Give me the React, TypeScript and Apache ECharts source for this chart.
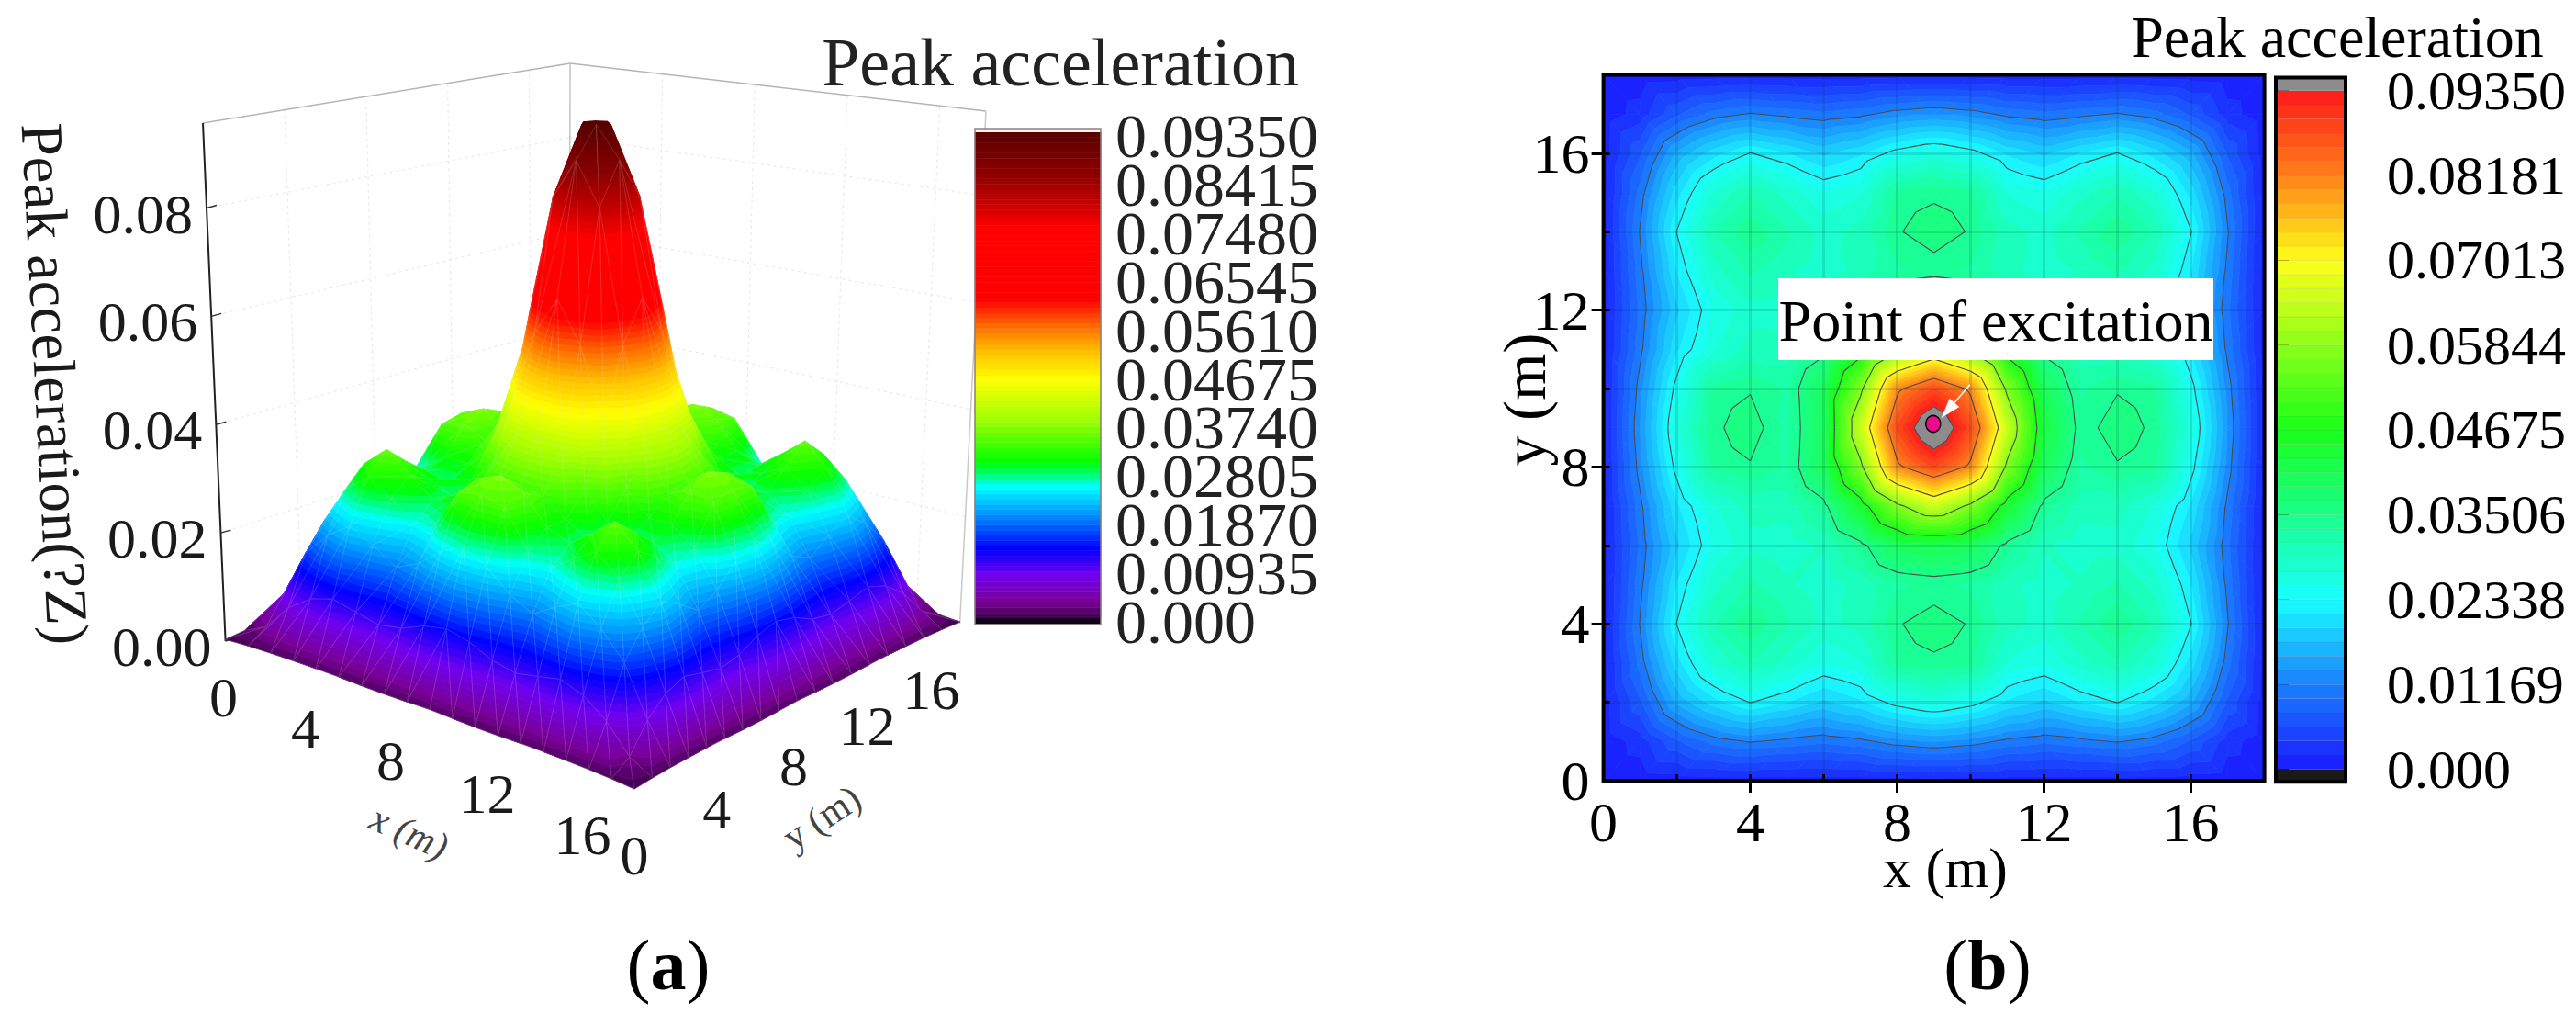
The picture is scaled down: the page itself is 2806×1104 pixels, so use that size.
import React, { useEffect, useRef } from "react";
import * as echarts from "echarts";

// Peak acceleration on the 19x19 node grid (1 m spacing), unit 1e-3, row index = y, column index = x
const accelRows = [
  [0.3,0.6,0.8,0.9,1.0,1.0,0.9,0.9,1.0,1.1,1.0,0.9,0.9,1.0,1.0,0.9,0.8,0.6,0.3],
  [0.6,2.8,7.5,10.5,11.9,11.0,10.2,11.0,12.8,13.7,12.8,11.0,10.2,11.0,11.9,10.5,7.5,2.8,0.6],
  [0.8,7.5,16.0,20.5,23.5,21.5,19.0,21.0,24.5,26.5,24.5,21.0,19.0,21.5,23.5,20.5,16.0,7.5,0.8],
  [0.9,10.5,20.5,27.5,31.0,28.5,25.5,27.0,33.6,34.5,33.6,27.0,25.5,28.5,31.0,27.5,20.5,10.5,0.9],
  [1.0,11.9,23.5,31.0,34.8,31.5,28.5,30.0,34.8,36.5,34.8,30.0,28.5,31.5,34.8,31.0,23.5,11.9,1.0],
  [1.0,11.0,21.5,28.5,31.5,29.5,28.0,30.0,32.8,33.5,32.8,30.0,28.0,29.5,31.5,28.5,21.5,11.0,1.0],
  [0.9,10.2,19.0,25.5,28.5,28.0,29.5,34.0,40.0,41.0,40.0,34.0,29.5,28.0,28.5,25.5,19.0,10.2,0.9],
  [0.9,11.0,21.0,27.0,30.0,30.0,34.0,44.0,57.0,64.3,57.0,44.0,34.0,30.0,30.0,27.0,21.0,11.0,0.9],
  [1.0,12.8,24.5,33.6,34.8,32.8,40.0,57.0,80.5,88.0,80.5,57.0,40.0,32.8,34.8,33.6,24.5,12.8,1.0],
  [1.1,13.7,26.5,34.5,36.5,32.5,39.5,64.3,88.0,100.0,88.0,64.3,42.5,33.8,36.5,34.5,26.5,13.7,1.1],
  [1.0,12.8,24.5,33.6,34.8,32.8,40.0,57.0,80.5,88.0,80.5,57.0,40.0,32.8,34.8,33.6,24.5,12.8,1.0],
  [0.9,11.0,21.0,27.0,30.0,30.0,34.0,44.0,57.0,64.3,57.0,44.0,34.0,30.0,30.0,27.0,21.0,11.0,0.9],
  [0.9,10.2,19.0,25.5,28.5,28.0,29.5,34.0,40.0,42.5,40.0,34.0,29.5,28.0,28.5,25.5,19.0,10.2,0.9],
  [1.0,11.0,21.5,28.5,31.5,29.5,28.0,30.0,32.8,33.8,32.8,30.0,28.0,29.5,31.5,28.5,21.5,11.0,1.0],
  [1.0,11.9,23.5,31.0,34.8,31.5,28.5,30.0,34.8,36.5,34.8,30.0,28.5,31.5,34.8,31.0,23.5,11.9,1.0],
  [0.9,10.5,20.5,27.5,31.0,28.5,25.5,27.0,33.6,34.5,33.6,27.0,25.5,28.5,31.0,27.5,20.5,10.5,0.9],
  [0.8,7.5,16.0,20.5,23.5,21.5,19.0,21.0,24.5,26.5,24.5,21.0,19.0,21.5,23.5,20.5,16.0,7.5,0.8],
  [0.6,2.8,7.5,10.5,11.9,11.0,10.2,11.0,12.8,13.7,12.8,11.0,10.2,11.0,11.9,10.5,7.5,2.8,0.6],
  [0.3,0.6,0.8,0.9,1.0,1.0,0.9,0.9,1.0,1.1,1.0,0.9,0.9,1.0,1.0,0.9,0.8,0.6,0.3],
];

const colorbarTicksA = [0, 0.00935, 0.0187, 0.02805, 0.0374, 0.04675, 0.0561, 0.06545, 0.0748, 0.08415, 0.0935];
const colorbarTicksB = [0, 0.01169, 0.02338, 0.03506, 0.04675, 0.05844, 0.07013, 0.08181, 0.0935];
const contourLevels = [0.01169, 0.02338, 0.03506, 0.04675, 0.05844, 0.07013, 0.08181, 0.0935];
const xyLabelTicks = [0, 4, 8, 12, 16];
const xyLongTicks = [4, 8, 12, 16];
const zTicks = [0, 0.02, 0.04, 0.06, 0.08];
const wallGridTicks = [4, 8, 12, 16];
const excitationPoint = [8.98, 9.1];
const arrowFrom = [9.98, 10.1];
const arrowTo = [9.2, 9.25];
const excitationBox = [4.76, 12.81, 16.61, 10.73];

const FONT = '"Liberation Serif", serif';
const VALUE_CAP = 0.0935;
const SURFACE_LIFT = 1.05;
const Z_TOP = 0.0957;
const BAND_A = 0.001;
const BAND_B = 0.0935 / 48;

const stopsA: [number, string][] = [
  [0, "#3c0048"], [0.0031, "#7a0096"], [0.0084, "#7000f0"], [0.0134, "#0000ff"], [0.0199, "#0090ff"],
  [0.0253, "#00ffff"], [0.0275, "#00ff80"], [0.0299, "#00ff00"], [0.0383, "#a0ff00"], [0.046, "#ffff00"],
  [0.0513, "#ffc000"], [0.0559, "#ff7000"], [0.0613, "#ff0000"], [0.0751, "#ff0000"], [0.0797, "#c80000"],
  [0.0858, "#8c0000"], [0.0935, "#5a0000"],
];
const stopsB: [number, string][] = [
  [0, "#1a1aff"], [0.01169, "#1a80ff"], [0.02338, "#1affff"], [0.03506, "#1aff8c"], [0.04675, "#1aff1a"],
  [0.05844, "#8cff1a"], [0.07013, "#ffff1a"], [0.08181, "#ff801a"], [0.0935, "#ff1a1a"],
];

function hexRgb(h: string) {
  return [parseInt(h.slice(1, 3), 16), parseInt(h.slice(3, 5), 16), parseInt(h.slice(5, 7), 16)];
}
function colorAt(stops: [number, string][], v: number) {
  if (v <= stops[0][0]) return stops[0][1];
  for (let i = 1; i < stops.length; i++) {
    if (v <= stops[i][0]) {
      const t = (v - stops[i - 1][0]) / (stops[i][0] - stops[i - 1][0]);
      const a = hexRgb(stops[i - 1][1]);
      const b = hexRgb(stops[i][1]);
      return `rgb(${a.map((c, k) => Math.round(c + (b[k] - c) * t)).join(",")})`;
    }
  }
  return stops[stops.length - 1][1];
}

type P3 = [number, number, number];
const node = (x: number, y: number): P3 => [x, y, accelRows[y][x] / 1000];
const triangles: P3[][] = [];
for (let j = 0; j < 18; j++) {
  for (let i = 0; i < 18; i++) {
    const a = node(i, j), b = node(i + 1, j), c = node(i + 1, j + 1), d = node(i, j + 1);
    if ((i < 9) === (j < 9)) {
      triangles.push([a, b, c], [a, c, d]);
    } else {
      triangles.push([a, b, d], [b, c, d]);
    }
  }
}
const centroid = (t: P3[]) => [(t[0][0] + t[1][0] + t[2][0]) / 3, (t[0][1] + t[1][1] + t[2][1]) / 3];
const depthSorted = [...triangles].sort((p, q) => {
  const a = centroid(p), b = centroid(q);
  return a[0] - a[1] - (b[0] - b[1]);
});

function clipZ(poly: P3[], level: number, keepAbove: boolean): P3[] {
  const out: P3[] = [];
  for (let i = 0; i < poly.length; i++) {
    const a = poly[i], b = poly[(i + 1) % poly.length];
    const ia = keepAbove ? a[2] >= level : a[2] <= level;
    const ib = keepAbove ? b[2] >= level : b[2] <= level;
    if (ia) out.push(a);
    if (ia !== ib) {
      const t = (level - a[2]) / (b[2] - a[2]);
      out.push([a[0] + (b[0] - a[0]) * t, a[1] + (b[1] - a[1]) * t, level]);
    }
  }
  return out;
}
function bands(tri: P3[], step: number, cap: number) {
  const zs = tri.map((p) => p[2]);
  const lo = Math.min(...zs), hi = Math.max(...zs);
  const res: { poly: P3[]; mid: number }[] = [];
  for (let k = Math.floor(lo / step); k * step < Math.min(hi, cap) + 1e-12; k++) {
    const a = k * step, b = Math.min((k + 1) * step, cap);
    if (a >= cap) break;
    let p = clipZ(tri, a, true);
    if (p.length >= 3) p = clipZ(p, b, false);
    if (p.length >= 3) res.push({ poly: p, mid: (a + b) / 2 });
  }
  return res;
}

// Oblique 3D box of panel (a): corners of the floor and of the ceiling on the page
const floorCorners = { L: [245.6, 698], F: [691, 861], R: [1045.6, 679], B: [620, 560] };
const roofCorners = { L: [221, 134], F: [682, 275], R: [1074, 121], B: [621, 69] };
function bil(c: any, u: number, v: number) {
  const f = (k: number) =>
    c.L[k] * (1 - u) * (1 - v) + c.F[k] * u * (1 - v) + c.R[k] * u * v + c.B[k] * (1 - u) * v;
  return [f(0), f(1)];
}
function project(x: number, y: number, z: number) {
  const u = x / 18, v = y / 18, w = z / Z_TOP;
  const a = bil(floorCorners, u, v), b = bil(roofCorners, u, v);
  return [a[0] + (b[0] - a[0]) * w, a[1] + (b[1] - a[1]) * w];
}
const projectSurface = (p: number[]) => project(p[0], p[1], p[2] * SURFACE_LIFT);
const line = (p: number[], q: number[], stroke: string, lineWidth: number, extra: any = {}) => ({
  type: "line",
  silent: true,
  shape: { x1: p[0], y1: p[1], x2: q[0], y2: q[1] },
  style: { stroke, lineWidth, ...extra },
});
const label = (text: string, x: number, y: number, fontSize: number, extra: any = {}, rotation = 0) => ({
  type: "text",
  silent: true,
  x,
  y,
  rotation,
  style: { text, fontSize, fontFamily: FONT, fill: "#1a1a1a", align: "center", verticalAlign: "middle", ...extra },
});

const xNudge = [[-2, 61], [-12, 59], [-18, 58], [-12, 57], [-7, 66]];
const yNudge = [[0, 70], [11, 60], [16, 54], [17, 50], [8, 52]];

function renderBoxAxes() {
  const kids: any[] = [];
  const faint = "#e6e6e6";
  const dash = { lineDash: [3, 4] };
  zTicks.slice(1).forEach((z) => {
    kids.push(line(project(0, 0, z), project(0, 18, z), faint, 1, dash));
    kids.push(line(project(0, 18, z), project(18, 18, z), faint, 1, dash));
  });
  wallGridTicks.forEach((t) => {
    kids.push(line(project(0, t, 0), project(0, t, Z_TOP), faint, 1, dash));
    kids.push(line(project(t, 18, 0), project(t, 18, Z_TOP), faint, 1, dash));
  });
  kids.push(line(project(0, 0, Z_TOP), project(0, 18, Z_TOP), "#b4b4b4", 1.5));
  kids.push(line(project(0, 18, Z_TOP), project(18, 18, Z_TOP), "#b4b4b4", 1.5));
  kids.push(line(project(0, 18, 0), project(0, 18, Z_TOP), "#c4c4c4", 1.5));
  kids.push(line(project(18, 18, 0), project(18, 18, Z_TOP), "#c8c8c8", 1.5));
  kids.push(line(project(0, 0, 0), project(0, 0, Z_TOP), "#222", 2));
  zTicks.forEach((z) => {
    const p = project(0, 0, z);
    kids.push(line(p, [p[0] + 11, p[1] - 3], "#333", 1.5));
    kids.push(label(z.toFixed(2), p[0] - 15, p[1] + 6, 62, { align: "right" }));
  });
  xyLabelTicks.forEach((t, i) => {
    const p = project(t, 0, 0);
    kids.push(label(String(t), p[0] + xNudge[i][0], p[1] + xNudge[i][1], 62));
    const q = project(18, t, 0);
    kids.push(label(String(t), q[0] + yNudge[i][0], q[1] + yNudge[i][1], 62));
  });
  kids.push(label("x (m)", 446, 906, 42, { fill: "#444", fontStyle: "italic" }, -0.42));
  kids.push(label("y (m)", 895, 890, 42, { fill: "#444" }, 0.58));
  kids.push(label("Peak acceleration(?Z)", 60, 418, 65, {}, -1.52));
  return { type: "group", children: kids };
}

function renderSurface(params: any) {
  const tri = depthSorted[params.dataIndex];
  const kids: any[] = [];
  bands(tri, BAND_A, VALUE_CAP).forEach(({ poly, mid }) => {
    const fill = colorAt(stopsA, mid);
    kids.push({ type: "polygon", silent: true, shape: { points: poly.map(projectSurface) }, style: { fill, stroke: fill, lineWidth: 0.8 } });
  });
  const top = clipZ(tri, VALUE_CAP, true);
  if (top.length >= 3) {
    const flat = top.map((p) => [p[0], p[1], VALUE_CAP]);
    kids.push({ type: "polygon", silent: true, shape: { points: flat.map(projectSurface) }, style: { fill: "#5a0000", stroke: "#5a0000", lineWidth: 0.8 } });
  }
  const capped = tri.map((p) => projectSurface([p[0], p[1], Math.min(p[2], VALUE_CAP)]));
  kids.push({
    type: "polyline",
    silent: true,
    shape: { points: [...capped, capped[0]] },
    style: { stroke: "rgba(225,225,225,0.16)", lineWidth: 1, fill: "none" },
  });
  return { type: "group", children: kids };
}

function renderContour(params: any, api: any) {
  const tri = triangles[params.dataIndex];
  const kids: any[] = [];
  const xy = (p: P3 | number[]) => api.coord([p[0], p[1]]);
  bands(tri, BAND_B, VALUE_CAP).forEach(({ poly, mid }) => {
    const fill = colorAt(stopsB, mid);
    kids.push({ type: "polygon", silent: true, shape: { points: poly.map(xy) }, style: { fill, stroke: fill, lineWidth: 0.8 } });
  });
  const top = clipZ(tri, VALUE_CAP, true);
  if (top.length >= 3) {
    kids.push({ type: "polygon", silent: true, shape: { points: top.map(xy) }, style: { fill: "#8c8c8c", stroke: "#8c8c8c", lineWidth: 0.8 } });
  }
  contourLevels.forEach((lv) => {
    const cross: number[][] = [];
    for (let i = 0; i < 3; i++) {
      const a = tri[i], b = tri[(i + 1) % 3];
      if ((a[2] - lv) * (b[2] - lv) < 0) {
        const t = (lv - a[2]) / (b[2] - a[2]);
        cross.push(xy([a[0] + (b[0] - a[0]) * t, a[1] + (b[1] - a[1]) * t]));
      }
    }
    if (cross.length === 2) kids.push({ ...line(cross[0], cross[1], "#4a4a4a", 1.1), z2: 10 });
  });
  return { type: "group", children: kids };
}

function renderAnnotation(_: any, api: any) {
  const tl = api.coord([excitationBox[0], excitationBox[1]]);
  const br = api.coord([excitationBox[2], excitationBox[3]]);
  const a = api.coord(arrowFrom), b = api.coord(arrowTo);
  const ang = Math.atan2(b[1] - a[1], b[0] - a[0]);
  const len = 22, half = 7;
  const base = [b[0] - Math.cos(ang) * len, b[1] - Math.sin(ang) * len];
  const nx = -Math.sin(ang), ny = Math.cos(ang);
  return {
    type: "group",
    children: [
      { type: "rect", silent: true, shape: { x: tl[0], y: tl[1], width: br[0] - tl[0], height: br[1] - tl[1] }, style: { fill: "#fff" } },
      { type: "text", silent: true, x: (tl[0] + br[0]) / 2, y: (tl[1] + br[1]) / 2 + 2, style: { text: "Point of excitation", fontSize: 64, fontFamily: FONT, fill: "#000", align: "center", verticalAlign: "middle" } },
      line(a, base, "#fff", 1.5),
      { type: "polygon", silent: true, shape: { points: [b, [base[0] + nx * half, base[1] + ny * half], [base[0] - nx * half, base[1] - ny * half]] }, style: { fill: "#fff" } },
    ],
  };
}

function colorbarRender(stops: [number, string][], step: number, sepAlpha: number) {
  return (params: any, api: any) => {
    const k = params.dataIndex;
    const lo = api.coord([0, k * step]);
    const hi = api.coord([1, (k + 1) * step]);
    const fill = colorAt(stops, (k + 0.5) * step);
    return {
      type: "rect",
      silent: true,
      shape: { x: lo[0], y: hi[1], width: hi[0] - lo[0], height: lo[1] - hi[1] },
      style: { fill, stroke: sepAlpha ? `rgba(120,60,0,${sepAlpha})` : fill, lineWidth: 0.6 },
    };
  };
}
function capsRender(top: string, bottom: string, topV: number, botV: number, frame: string, frameW: number) {
  return (_: any, api: any) => {
    const a = api.coord([0, topV]), b = api.coord([1, VALUE_CAP]), c = api.coord([0, 0]), d = api.coord([1, botV]);
    return {
      type: "group",
      children: [
        { type: "rect", silent: true, shape: { x: a[0], y: a[1], width: b[0] - a[0], height: b[1] - a[1] }, style: { fill: top } },
        { type: "rect", silent: true, shape: { x: c[0], y: c[1], width: d[0] - c[0], height: d[1] - c[1] }, style: { fill: bottom } },
        { type: "rect", silent: true, shape: { x: a[0], y: a[1], width: d[0] - a[0], height: d[1] - a[1] }, style: { fill: "none", stroke: frame, lineWidth: frameW } },
      ],
    };
  };
}
function renderColorbarALabel(params: any, api: any) {
  const v = colorbarTicksA[params.dataIndex];
  const p = api.coord([1, v]);
  return label(v === 0 ? "0.000" : v.toFixed(5), p[0] + 16, p[1] + 4, 68, { align: "left", fill: "#222" });
}

const range = (n: number) => Array.from({ length: n }, (_, i) => [i]);

export default function App() {
  const ref = useRef<HTMLDivElement>(null);
  useEffect(() => {
    document.body.style.margin = "0";
    const chart = echarts.init(ref.current!, null, { renderer: "svg" });
    const splitStyle = { color: "rgba(0,60,80,0.15)", width: 3 };
    const labelStyle = { fontFamily: FONT, fontSize: 62, color: "#000" };
    const hideAxis = { show: false };
    chart.setOption({
      animation: false,
      backgroundColor: "#fff",
      grid: [
        { left: 1746.6, top: 81.5, width: 720, height: 768.5, show: true, backgroundColor: "transparent", borderColor: "#000", borderWidth: 4, z: 6 },
        { left: 1062, top: 144, width: 137, height: 529 },
        { left: 2479, top: 98.7, width: 76, height: 738.8 },
      ],
      xAxis: [
        { gridIndex: 0, type: "value", min: 0, max: 18, interval: 2, z: 5,
          axisLine: hideAxis,
          axisTick: { show: true, inside: true, length: 7, lineStyle: { color: "#000", width: 3 } },
          axisLabel: { show: true, margin: 14, showMaxLabel: false, ...labelStyle, formatter: (v: number) => (xyLabelTicks.includes(v) ? String(v) : "") },
          splitLine: { show: true, lineStyle: splitStyle } },
        { gridIndex: 0, type: "value", min: 0, max: 18, z: 7,
          axisLine: hideAxis,
          axisTick: { show: true, inside: true, length: 13, customValues: xyLongTicks, lineStyle: { color: "#000", width: 3 } },
          axisLabel: hideAxis, splitLine: hideAxis },
        { gridIndex: 1, type: "value", min: 0, max: 1, show: false },
        { gridIndex: 2, type: "value", min: 0, max: 1, show: false },
      ],
      yAxis: [
        { gridIndex: 0, type: "value", min: 0, max: 18, interval: 2, z: 5,
          axisLine: hideAxis,
          axisTick: { show: true, inside: true, length: 7, lineStyle: { color: "#000", width: 3 } },
          axisLabel: { show: true, margin: 15, showMaxLabel: false, ...labelStyle, formatter: (v: number) => (xyLabelTicks.includes(v) ? String(v) : "") },
          splitLine: { show: true, lineStyle: splitStyle } },
        { gridIndex: 0, type: "value", min: 0, max: 18, z: 7,
          axisLine: hideAxis,
          axisTick: { show: true, inside: true, length: 13, customValues: xyLongTicks, lineStyle: { color: "#000", width: 3 } },
          axisLabel: hideAxis, splitLine: hideAxis },
        { gridIndex: 1, type: "value", min: 0, max: 0.0935, position: "right",
          axisLine: hideAxis,
          axisTick: { show: true, length: 16, customValues: colorbarTicksA, lineStyle: { color: "#555", width: 2 } },
          axisLabel: { show: false },
          splitLine: hideAxis },
        { gridIndex: 2, type: "value", min: 0, max: 0.0935, position: "right",
          axisLine: hideAxis,
          axisTick: { show: true, length: 14, customValues: colorbarTicksB, lineStyle: { color: "#000", width: 2.5 } },
          axisLabel: { show: true, margin: 45, showMinLabel: true, showMaxLabel: true, hideOverlap: false, customValues: colorbarTicksB, fontFamily: FONT, fontSize: 60, color: "#000",
            formatter: (v: number) => (v === 0 ? "0.000" : v.toFixed(5)) },
          splitLine: hideAxis },
      ],
      graphic: {
        elements: [
          label("Peak acceleration", 1155, 68, 74, { fill: "#222" }),
          label("Peak acceleration", 2546, 40, 64, { fill: "#000" }),
          label("x (m)", 2119, 945, 62, { fill: "#000" }),
          label("y (m)", 1660, 435, 66, { fill: "#000" }, Math.PI / 2),
          { type: "text", silent: true, x: 728, y: 1050, style: { text: "({b|a})", fontSize: 78, fontFamily: FONT, fill: "#000", align: "center", verticalAlign: "middle", rich: { b: { fontSize: 78, fontFamily: FONT, fontWeight: "bold", fill: "#000" } } } },
          { type: "text", silent: true, x: 2165, y: 1050, style: { text: "({b|b})", fontSize: 78, fontFamily: FONT, fill: "#000", align: "center", verticalAlign: "middle", rich: { b: { fontSize: 78, fontFamily: FONT, fontWeight: "bold", fill: "#000" } } } },
        ],
      },
      series: [
        { type: "custom", name: "box", coordinateSystem: "none", z: 1, silent: true, data: [[0]], renderItem: renderBoxAxes },
        { type: "custom", name: "surface", coordinateSystem: "none", z: 2, silent: true, data: range(depthSorted.length), renderItem: renderSurface },
        { type: "custom", name: "contour", xAxisIndex: 0, yAxisIndex: 0, z: 2, silent: true, clip: false,
          data: triangles.map(centroid), encode: { x: 0, y: 1 }, renderItem: renderContour },
        { type: "custom", name: "annotation", xAxisIndex: 0, yAxisIndex: 0, z: 10, silent: true, clip: false,
          data: [excitationPoint], encode: { x: 0, y: 1 }, renderItem: renderAnnotation },
        { type: "scatter", name: "excitation", xAxisIndex: 0, yAxisIndex: 0, z: 12, silent: true, symbol: "circle", symbolSize: [16, 18],
          itemStyle: { color: "#ef0a8c", borderColor: "#000", borderWidth: 1.5, opacity: 1 }, data: [excitationPoint] },
        { type: "custom", name: "colorbarA", xAxisIndex: 2, yAxisIndex: 2, z: 2, silent: true, clip: false,
          data: range(Math.round(VALUE_CAP / BAND_A)).map((r) => [0.5, (r[0] + 0.5) * BAND_A]), encode: { x: 0, y: 1 },
          renderItem: colorbarRender(stopsA, VALUE_CAP / Math.round(VALUE_CAP / BAND_A), 0) },
        { type: "custom", name: "colorbarAFrame", xAxisIndex: 2, yAxisIndex: 2, z: 3, silent: true, clip: false,
          data: [[0.5, 0.05]], encode: { x: 0, y: 1 },
          renderItem: capsRender("#fff2ec", "#12001a", 0.0942, -0.0012, "#8c7f80", 1.5) },
        { type: "custom", name: "colorbarALabels", xAxisIndex: 2, yAxisIndex: 2, z: 3, silent: true, clip: false,
          data: colorbarTicksA.map((v) => [1, v]), encode: { x: 0, y: 1 }, renderItem: renderColorbarALabel },
        { type: "custom", name: "colorbarB", xAxisIndex: 3, yAxisIndex: 3, z: 2, silent: true, clip: false,
          data: range(48).map((r) => [0.5, (r[0] + 0.5) * BAND_B]), encode: { x: 0, y: 1 },
          renderItem: colorbarRender(stopsB, BAND_B, 0.12) },
        { type: "custom", name: "colorbarBFrame", xAxisIndex: 3, yAxisIndex: 3, z: 3, silent: true, clip: false,
          data: [[0.5, 0.05]], encode: { x: 0, y: 1 },
          renderItem: capsRender("#8c8c8c", "#1a1a1a", 0.0953, -0.00175, "#000", 4) },
      ],
    });
    return () => chart.dispose();
  }, []);
  return <div ref={ref} style={{ position: "absolute", left: 0, top: 0, width: 2806, height: 1104 }} />;
}
